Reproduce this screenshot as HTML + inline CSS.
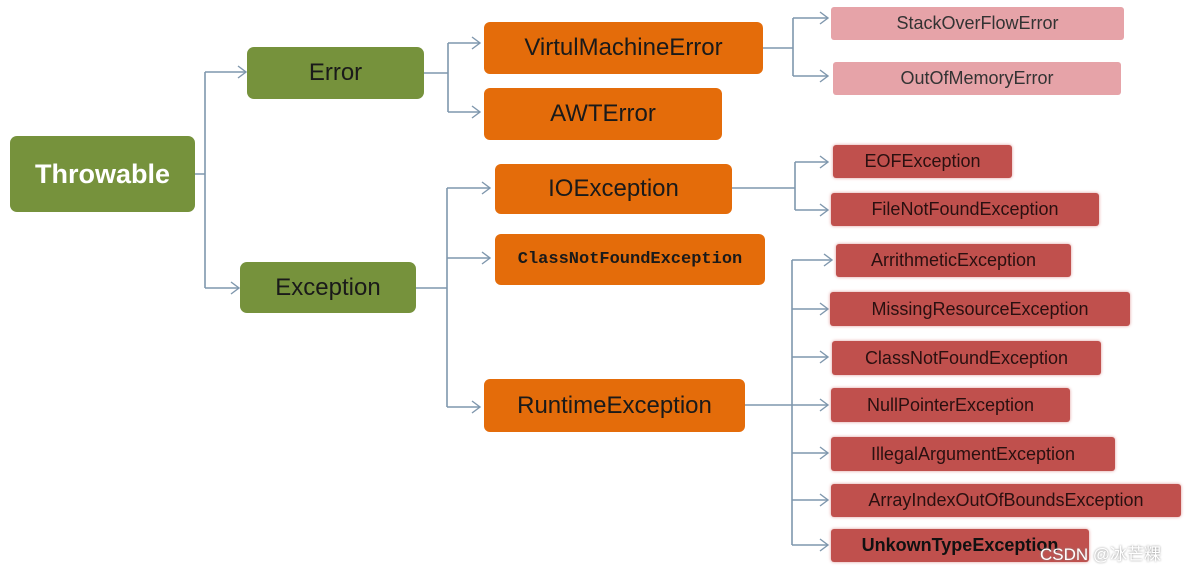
<!DOCTYPE html>
<html><head><meta charset="utf-8"><style>
body{margin:0;width:1196px;height:572px;background:#fff;overflow:hidden;position:relative;font-family:"Liberation Sans",sans-serif}
.b{position:absolute;display:flex;align-items:center;justify-content:center;border-radius:7px;box-sizing:border-box}
.g{background:#76923c;color:#1a1a1a;font-size:24px}
.o{background:#e46c0a;color:#1a1a1a;font-size:24px;border-radius:6px}
.r{background:#c0504d;color:#2a1010;font-size:18px;border-radius:3px;box-shadow:0 0 3px #d99}
.p{background:#e6a3a8;color:#333;font-size:18px;border-radius:3px}
svg{position:absolute;left:0;top:0}
</style></head><body>
<svg width="1196" height="572" fill="none" stroke="#7f97ad" stroke-width="1.6">
<path d="M195 174H205M205 72V288M205 72H245M205 288H238"/>
<path d="M424 73H448M448 43V112M448 43H480M448 112H480"/>
<path d="M416 288H447M447 188V407M447 188H490M447 258H490M447 407H480"/>
<path d="M763 48H793M793 18V76M793 18H828M793 76H828"/>
<path d="M732 188H795M795 162V210M795 162H828M795 210H828"/>
<path d="M745 405H828M792 260V545M792 260H832M792 309H828M792 357H828M792 453H828M792 500H828M792 545H828"/>
<g stroke-width="1.4">
<path d="M238 66L246 72L238 78M231 282L239 288L231 294M472 37L480 43L472 49M472 106L480 112L472 118M482 182L490 188L482 194M482 252L490 258L482 264M472 401L480 407L472 413M820 12L828 18L820 24M820 70L828 76L820 82M820 156L828 162L820 168M820 204L828 210L820 216M824 254L832 260L824 266M820 303L828 309L820 315M820 351L828 357L820 363M820 399L828 405L820 411M820 447L828 453L820 459M820 494L828 500L820 506M820 539L828 545L820 551"/>
</g></svg>
<div class="b g" style="left:10px;top:136px;width:185px;height:76px;color:#fff;font-weight:bold;font-size:27px">Throwable</div>
<div class="b g" style="left:247px;top:47px;width:177px;height:52px">Error</div>
<div class="b g" style="left:240px;top:262px;width:176px;height:51px">Exception</div>
<div class="b o" style="left:484px;top:22px;width:279px;height:52px">VirtulMachineError</div>
<div class="b o" style="left:484px;top:88px;width:238px;height:52px">AWTError</div>
<div class="b o" style="left:495px;top:164px;width:237px;height:50px">IOException</div>
<div class="b o" style="left:495px;top:234px;width:270px;height:51px;font-family:'Liberation Mono',monospace;font-weight:bold;font-size:17px">ClassNotFoundException</div>
<div class="b o" style="left:484px;top:379px;width:261px;height:53px">RuntimeException</div>
<div class="b p" style="left:831px;top:7px;width:293px;height:33px">StackOverFlowError</div>
<div class="b p" style="left:833px;top:62px;width:288px;height:33px">OutOfMemoryError</div>
<div class="b r" style="left:833px;top:145px;width:179px;height:33px">EOFException</div>
<div class="b r" style="left:831px;top:193px;width:268px;height:33px">FileNotFoundException</div>
<div class="b r" style="left:836px;top:244px;width:235px;height:33px">ArrithmeticException</div>
<div class="b r" style="left:830px;top:292px;width:300px;height:34px">MissingResourceException</div>
<div class="b r" style="left:832px;top:341px;width:269px;height:34px">ClassNotFoundException</div>
<div class="b r" style="left:831px;top:388px;width:239px;height:34px">NullPointerException</div>
<div class="b r" style="left:831px;top:437px;width:284px;height:34px">IllegalArgumentException</div>
<div class="b r" style="left:831px;top:484px;width:350px;height:33px">ArrayIndexOutOfBoundsException</div>
<div class="b r" style="left:831px;top:529px;width:258px;height:33px;font-weight:bold;color:#111">UnkownTypeException</div>
<div style="position:absolute;left:1040px;top:540px;font-size:17px;color:#fff;font-family:'Liberation Sans','Noto Sans CJK SC',sans-serif;text-shadow:0 0 2px #888">CSDN @冰芒粿</div>
</body></html>
